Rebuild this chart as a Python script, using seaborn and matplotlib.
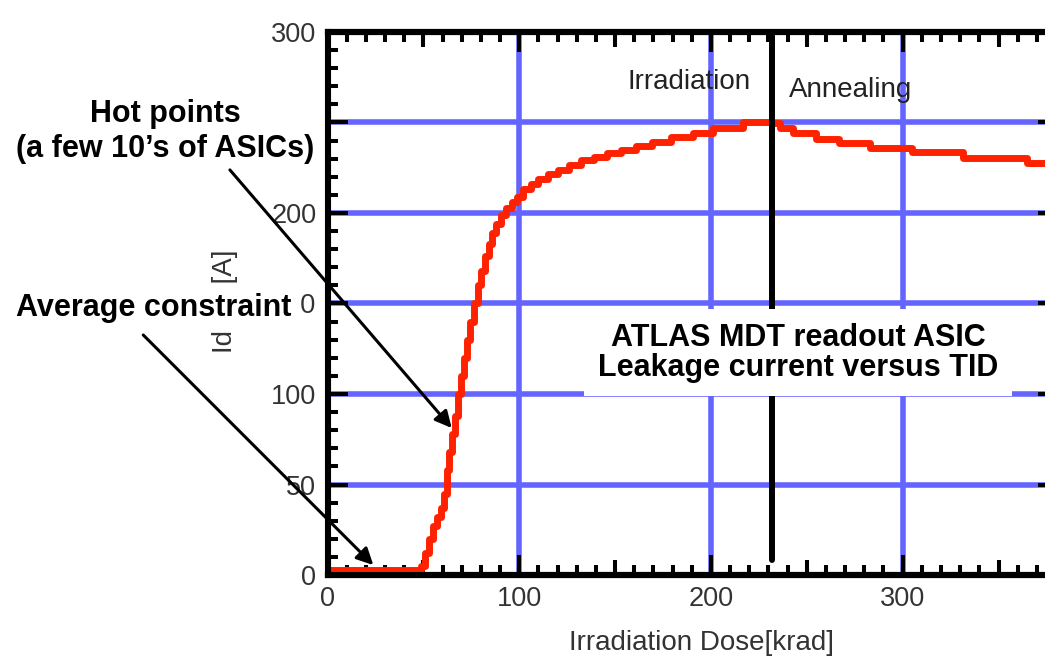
import matplotlib
matplotlib.use("Agg")
import matplotlib.pyplot as plt
from matplotlib.ticker import MultipleLocator, FixedLocator
import seaborn as sns
import pandas as pd

# ---- data ----
dose = [0, 49, 51, 53, 55, 57, 59, 61, 62.5, 63.5, 65, 66.5, 68, 69.5, 71, 72.5,
        74.5, 76.5, 78.5, 80, 82, 84, 86, 88, 90.5, 93, 96, 99, 102, 106, 110,
        115, 120, 126, 132, 139, 146, 153, 161, 169, 179, 190.5, 201, 216.7,
        232, 236, 243, 255, 267, 283, 305, 331.5, 365, 381]
current = [2.5, 5, 12, 20, 27, 32, 37, 45, 58, 68, 78, 88, 100, 110, 120, 130,
           140, 150, 160, 168, 176, 183, 189, 194, 199, 203, 206, 209, 213, 216,
           219, 221.5, 224, 226.5, 229, 231, 233, 235, 237, 239, 242, 244, 247,
           250, 249.5, 247, 244, 241, 238.5, 236, 233.5, 230.5, 227.5, 227.5]

x_major = [0, 100, 200, 300]
x_medium = [50, 150, 250, 350]
y_major = [0, 50, 100, 150, 200, 250, 300]
anneal_start = 231.7

phase_labels = ["Irradiation", "Annealing"]
title_text = "ATLAS MDT readout ASIC\nLeakage current versus TID"
hot_text = "Hot points\n(a few 10\u2019s of ASICs)"
avg_text = "Average constraint"
x_label = "Irradiation Dose[krad]"
y_label = "Id      [A]"

df = pd.DataFrame({"dose": dose, "current": current})

sns.set_theme(style="white")
plt.rcParams["font.family"] = ["Liberation Sans", "DejaVu Sans"]

fig = plt.figure(figsize=(10.45, 6.62), dpi=100)
ax = fig.add_axes([0.3134, 0.1314, 0.699, 0.8203])

grid_blue = "#6464ff"
ax.set_axisbelow(True)

sns.lineplot(data=df, x="dose", y="current", drawstyle="steps-post",
             color="#ff2200", lw=5, ax=ax, zorder=2)

ax.axvline(anneal_start, ymin=0.028, ymax=1, color="black", lw=4.3, zorder=3)

ax.set_xlim(0, 381)
ax.set_ylim(0, 300)

ax.xaxis.set_major_locator(FixedLocator(x_major))
ax.xaxis.set_minor_locator(MultipleLocator(10))
ax.yaxis.set_major_locator(FixedLocator(y_major))
ax.yaxis.set_minor_locator(MultipleLocator(10))

lab_col = "#333333"
ax.tick_params(which="major", direction="in", length=14.4, width=2.9,
               color="black", top=True, right=True, bottom=True, left=True,
               labelsize=19.5, labelcolor=lab_col, pad=8)
ax.tick_params(which="minor", direction="in", length=7.2, width=2.9,
               color="black", top=True, right=True, bottom=True, left=True)

ax.grid(True, which="major", color=grid_blue, lw=4.0)
ax.grid(False, which="minor")

for s in ax.spines.values():
    s.set_visible(True)
    s.set_color("black")
    s.set_linewidth(4.4)

# medium ticks at 50, 150, ...
for loc in ("bottom", "top"):
    sec = ax.secondary_xaxis(loc)
    sec.set_xticks(x_medium)
    sec.tick_params(direction="in", length=10.8, width=2.9, color="black",
                    bottom=(loc == "bottom"), top=(loc == "top"),
                    labelbottom=False, labeltop=False)
    sec.spines[loc].set_linewidth(4.4)
    sec.spines[loc].set_color("black")

ax.set_xlabel(x_label, fontsize=20, color=lab_col)
ax.xaxis.set_label_coords(0.512, -0.102)
ax.set_ylabel(y_label, fontsize=20, color=lab_col)
ax.yaxis.label.set_va("center")
ax.yaxis.set_label_coords(-0.140, 0.504)

ax.text(188.6, 272.4, phase_labels[0], fontsize=20, color="#222222",
        ha="center", va="center", zorder=4)
ax.text(272.6, 268.0, phase_labels[1], fontsize=20, color="#222222",
        ha="center", va="center", zorder=4)

bold = dict(fontsize=22, fontweight="bold", color="black", ha="center",
            va="center", clip_on=False, zorder=6)

ax.text(245.4, 122.9, title_text, linespacing=1.0,
        bbox=dict(boxstyle="square,pad=0.45", fc="white", ec="none"), **bold)
ax.text(-84.8, 245.0, hot_text, linespacing=1.2,
        bbox=dict(boxstyle="square,pad=0.3", fc="white", ec="none"), **bold)
ax.text(-90.5, 147.5, avg_text,
        bbox=dict(boxstyle="square,pad=0.3", fc="white", ec="none"), **bold)

arrow = dict(arrowstyle="-|>", color="black", lw=2.2, mutation_scale=25,
             shrinkA=0, shrinkB=0)
ax.annotate("", xy=(64.8, 81.2), xytext=(-50.9, 223.8), arrowprops=arrow,
            annotation_clip=False, zorder=7)
ax.annotate("", xy=(23.9, 5.5), xytext=(-96.1, 132.6), arrowprops=arrow,
            annotation_clip=False, zorder=7)

fig.savefig("out.png", dpi=100)
